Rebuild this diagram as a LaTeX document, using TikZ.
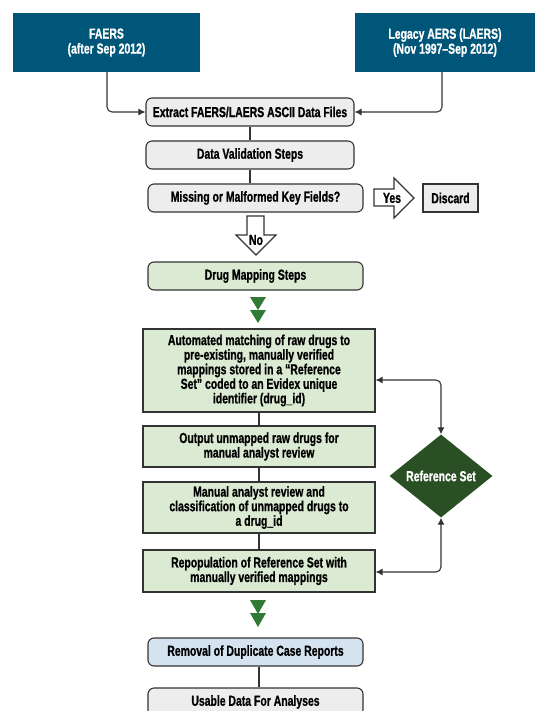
\documentclass[tikz,border=0pt]{standalone}
\usepackage{fontspec}
\setmainfont{Liberation Sans}[FakeStretch=0.72, BoldFeatures={FakeBold=0.8}]
\usepackage{tikz}
\usetikzlibrary{calc, shapes.geometric, arrows.meta}

\definecolor{srcblue}{RGB}{0,86,120}
\definecolor{boxgray}{RGB}{237,237,237}
\definecolor{linegray}{RGB}{51,51,51}
\definecolor{boxgreen}{RGB}{218,234,211}
\definecolor{tipgreen}{RGB}{47,122,52}
\definecolor{setgreen}{RGB}{43,79,36}
\definecolor{boxblue}{RGB}{213,227,240}

\tikzset{
  every node/.style={font=\bfseries\fontsize{14.5}{13}\selectfont},
  srcbox/.style={fill=srcblue, text=white, minimum width=187pt, minimum height=59pt,
    align=center, font=\bfseries\fontsize{14.5}{15}\selectfont},
  graybox/.style={draw=linegray, fill=boxgray, line width=1.1pt, rounded corners=6pt,
    minimum height=28pt, inner sep=2pt},
  greenbox/.style={draw=linegray, fill=boxgreen, line width=1.1pt, minimum width=232pt,
    align=center, inner sep=3pt},
  link/.style={draw=linegray, line width=1.1pt},
  tiparrow/.style={link, -{Latex[length=7pt,width=7pt]}},
  twoway/.style={link, {Latex[length=7pt,width=7pt]}-{Latex[length=7pt,width=7pt]}, rounded corners=5pt},
  blockarrow/.style={draw=linegray, fill=white, line width=1.1pt, line join=miter},
}

\begin{document}
\begin{tikzpicture}[x=1pt, y=-1pt]
  \useasboundingbox (0,0) rectangle (535,711);
  % Sources
  \node[srcbox] (faers) at (106.5,42.5) {FAERS\\(after Sep 2012)};
  \node[srcbox, minimum width=180pt] (laers) at (445,42.5) {Legacy AERS (LAERS)\\(Nov 1997--Sep 2012)};
  % Extraction and validation
  \node[graybox, minimum width=208pt] (extract) at (250,112) {Extract FAERS/LAERS ASCII Data Files};
  \node[graybox, minimum width=208pt] (valid) at (250,155) {Data Validation Steps};
  \node[graybox, minimum width=215pt] (missing) at (255.5,198) {Missing or Malformed Key Fields?};
  \node[draw=linegray, fill=boxgray, line width=1.1pt, minimum width=55pt, minimum height=28pt] (discard) at (450.5,198) {Discard};
  \draw[tiparrow, rounded corners=5pt] (faers.south -| 107,0) |- (extract.west);
  \draw[tiparrow, rounded corners=5pt] (laers.south -| 442,0) |- (extract.east);
  \draw[link] (extract) -- (valid);
  \draw[link] (valid.south) -- (valid.south |- missing.north);
  % Yes / No block arrows
  \draw[blockarrow] (374,189) -- (394,189) -- (394,178) -- (414,198) -- (394,218) -- (394,206) -- (374,206) -- cycle;
  \node (yes) at (392,198) {Yes};
  \draw[blockarrow] (247,216) -- (264,216) -- (264,235) -- (276,235) -- (256,255) -- (236,235) -- (247,235) -- cycle;
  \node (no) at (256,240) {No};
  % Drug mapping
  \node[graybox, fill=boxgreen, minimum width=215pt] (mapping) at (255.5,276) {Drug Mapping Steps};
  \foreach \y in {297, 310} {
    \fill[tipgreen] (250,\y) -- (266,\y) -- (258,\y+13) -- cycle;
  }
  \node[greenbox, minimum height=83pt] (auto) at (259,370.5) {Automated matching of raw drugs to\\pre-existing, manually verified\\mappings stored in a “Reference\\Set” coded to an Evidex unique\\identifier (drug\_id)};
  \node[greenbox, minimum height=41pt] (unmapped) at (259,446.5) {Output unmapped raw drugs for\\manual analyst review};
  \node[greenbox, minimum height=51pt] (review) at (259,507.5) {Manual analyst review and\\classification of unmapped drugs to\\a drug\_id};
  \node[greenbox, minimum height=42pt] (repop) at (259,571) {Repopulation of Reference Set with\\manually verified mappings};
  \draw[link] (auto) -- (unmapped);
  \draw[link] (unmapped) -- (review);
  \draw[link] (review) -- (repop);
  % Reference set
  \node[diamond, fill=setgreen, text=white, minimum width=103pt, minimum height=83pt, inner sep=0pt] (refset) at (441,476) {Reference Set};
  \draw[twoway] ([yshift=-9.5pt]auto.east) -| (refset.north);
  \draw[twoway] ([yshift=-1pt]repop.east) -| (refset.south);
  \foreach \y in {600, 613} {
    \fill[tipgreen] (250,\y) -- (266,\y) -- (258,\y+14) -- cycle;
  }
  % De-duplication
  \node[graybox, fill=boxblue, minimum width=215pt] (dedup) at (255.5,652) {Removal of Duplicate Case Reports};
  \node[graybox, minimum width=215pt] (usable) at (255.5,702) {Usable Data For Analyses};
  \draw[link] (dedup.south -| 259,0) -- (usable.north -| 259,0);
\end{tikzpicture}
\end{document}
